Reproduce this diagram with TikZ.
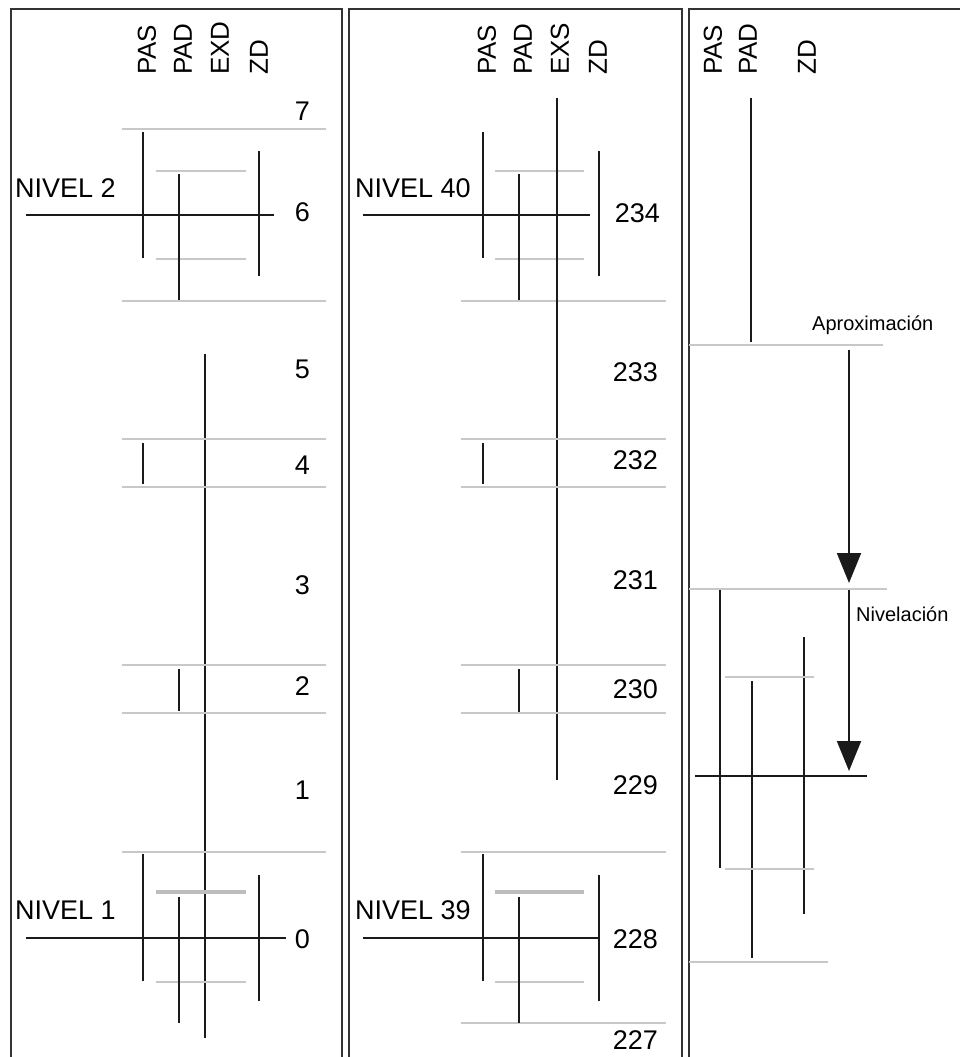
\documentclass[tikz,border=0pt]{standalone}
\usepackage{fontspec}
\setmainfont{Liberation Sans}
\usetikzlibrary{arrows.meta}
\definecolor{frc}{HTML}{333333}
\definecolor{lnc}{HTML}{1A1A1A}
\definecolor{gyc}{HTML}{C8C8C8}
\definecolor{gyb}{HTML}{BDBDBD}
\begin{document}
\begin{tikzpicture}[x=1pt,y=-1pt,
  blk/.style={line width=2pt,draw=lnc},
  gry/.style={line width=1.6pt,draw=gyc},
  gryb/.style={line width=3.5pt,draw=gyb},
  frm/.style={line width=2.5pt,draw=frc,line join=miter},
  num/.style={anchor=east,inner sep=0pt,font=\fontsize{27}{30}\selectfont},
  lvl/.style={anchor=base west,inner sep=0pt,font=\fontsize{27}{30}\selectfont},
  hdr/.style={rotate=90,anchor=west,inner sep=0pt,font=\fontsize{26}{30}\selectfont},
  lab/.style={anchor=base west,inner sep=0pt,font=\fontsize{20}{24}\selectfont},
  arr/.style={line width=2pt,draw=lnc,-{Triangle[width=24pt,length=30pt]}}]
\useasboundingbox (0,0) rectangle (959,1057);

% frames
\draw[frm] (11,1062) -- (11,9) -- (342,9) -- (342,1062);
\draw[frm] (349,1062) -- (349,9) -- (682,9) -- (682,1062);
\draw[frm] (689,1062) -- (689,9) -- (962,9);

% ---------- left panel ----------
\node[hdr] (hL1) at (147,75) {PAS};
\node[hdr] (hL2) at (183,75) {PAD};
\node[hdr] (hL3) at (220,75) {EXD};
\node[hdr] (hL4) at (259,75) {ZD};

\draw[gry] (122,129) -- (326,129);
\draw[gry] (156,171) -- (246,171);
\draw[gry] (156,259) -- (246,259);
\draw[gry] (122,301) -- (326,301);
\draw[blk] (143,132) -- (143,258);
\draw[blk] (259,151) -- (259,276);
\draw[blk] (179,174) -- (179,300);
\draw[blk] (26,215) -- (274,215);
\node[lvl] (nv2) at (15,197) {NIVEL 2};

\draw[blk] (205,354) -- (205,1038);
\draw[gry] (122,439) -- (326,439);
\draw[gry] (122,487) -- (326,487);
\draw[blk] (143,443) -- (143,484);
\draw[gry] (122,665) -- (326,665);
\draw[gry] (122,713) -- (326,713);
\draw[blk] (179,669) -- (179,711);

\draw[gry] (122,852) -- (326,852);
\draw[gryb] (156,892) -- (246,892);
\draw[gry] (156,982) -- (246,982);
\draw[blk] (143,854) -- (143,981);
\draw[blk] (259,875) -- (259,1001);
\draw[blk] (179,897) -- (179,1023);
\draw[blk] (26,938) -- (286,938);
\node[lvl] (nv1) at (15,919) {NIVEL 1};

\node[num] (nL7) at (310,111) {7};
\node[num] (nL6) at (310,212) {6};
\node[num] (nL5) at (310,369) {5};
\node[num] (nL4) at (310,465) {4};
\node[num] (nL3) at (310,585) {3};
\node[num] (nL2) at (310,686) {2};
\node[num] (nL1) at (310,790) {1};
\node[num] (nL0) at (310,939) {0};

% ---------- middle panel ----------
\node[hdr] (hM1) at (487,75) {PAS};
\node[hdr] (hM2) at (523,75) {PAD};
\node[hdr] (hM3) at (560,75) {EXS};
\node[hdr] (hM4) at (598,75) {ZD};

\draw[gry] (495,171) -- (584,171);
\draw[gry] (495,259) -- (584,259);
\draw[gry] (461,301) -- (666,301);
\draw[blk] (557,98) -- (557,780);
\draw[blk] (483,132) -- (483,258);
\draw[blk] (599,151) -- (599,276);
\draw[blk] (519,174) -- (519,300);
\draw[blk] (363,215) -- (590,215);
\node[lvl] (nv40) at (355,197) {NIVEL 40};

\draw[gry] (461,439) -- (666,439);
\draw[gry] (461,487) -- (666,487);
\draw[blk] (483,443) -- (483,484);
\draw[gry] (461,665) -- (666,665);
\draw[gry] (461,713) -- (666,713);
\draw[blk] (519,669) -- (519,712);

\draw[gry] (461,852) -- (666,852);
\draw[gryb] (495,892) -- (584,892);
\draw[gry] (495,982) -- (584,982);
\draw[gry] (461,1023) -- (666,1023);
\draw[blk] (483,854) -- (483,981);
\draw[blk] (599,875) -- (599,1001);
\draw[blk] (519,897) -- (519,1023);
\draw[blk] (363,938) -- (599,938);
\node[lvl] (nv39) at (355,919) {NIVEL 39};

\node[num] (nM234) at (660,213) {234};
\node[num] (nM233) at (658,372) {233};
\node[num] (nM232) at (658,460) {232};
\node[num] (nM231) at (658,580) {231};
\node[num] (nM230) at (658,689) {230};
\node[num] (nM229) at (658,785) {229};
\node[num] (nM228) at (658,939) {228};
\node[num] (nM227) at (658,1040) {227};

% ---------- right panel ----------
\node[hdr] (hR1) at (713,75) {PAS};
\node[hdr] (hR2) at (748,75) {PAD};
\node[hdr] (hR4) at (807,75) {ZD};

\draw[blk] (751,98) -- (751,342);
\draw[gry] (689,345) -- (883,345);
\node[lab] (apx) at (812,330) {Aproximación};
\coordinate (a1s) at (849,350);
\coordinate (a1e) at (849,583);
\draw[arr] (a1s) -- (a1e);

\draw[gry] (689,589) -- (887,589);
\node[lab] (niv) at (856,621) {Nivelación};
\coordinate (a2s) at (849,590);
\coordinate (a2e) at (849,771);
\draw[arr] (a2s) -- (a2e);

\draw[blk] (720,590) -- (720,868);
\draw[blk] (804,637) -- (804,914);
\draw[gry] (725,677) -- (814,677);
\draw[blk] (752,681) -- (752,958);
\draw[blk] (695,776) -- (867,776);
\draw[gry] (725,869) -- (814,869);
\draw[gry] (689,962) -- (828,962);
\end{tikzpicture}
\end{document}
